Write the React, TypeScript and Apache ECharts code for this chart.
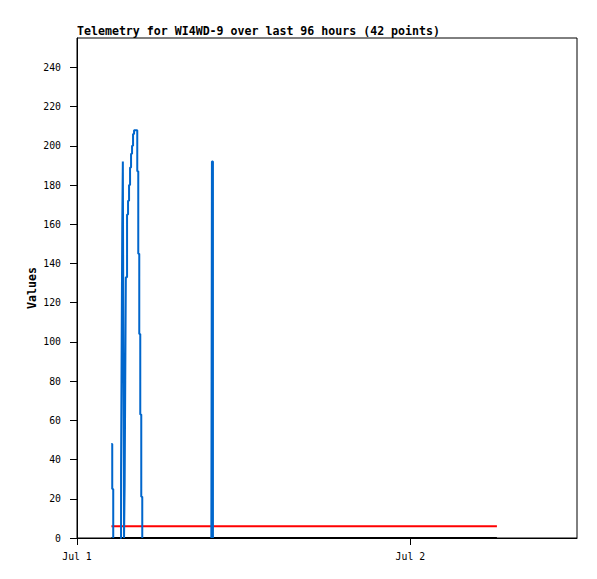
import React, { useEffect, useRef } from 'react';
import * as echarts from 'echarts';

const titleText = 'Telemetry for WI4WD-9 over last 96 hours (42 points)';
const yAxisName = 'Values';

// x axis is measured in hours since Jul 1 00:00
const xMin = 0;
const xMax = 36;
const xTickHours = [0, 24];
const xTickLabels = ['Jul 1', 'Jul 2'];

const yMin = 0;
const yMax = 255;
const yTicks = [0, 20, 40, 60, 80, 100, 120, 140, 160, 180, 200, 220, 240];

// blue telemetry trace (null = gap in the trace)
const blueHours = [
  2.465, 2.537, 2.609, 2.609,
  3.114, 3.171, 3.214, 3.258, 3.301, 3.344, 3.387, 3.431, 3.474, 3.517,
  3.604, 3.676, 3.748, 3.82, 3.892, 3.964, 4.036, 4.108, 4.288, 4.339,
  4.411, 4.483, 4.555, 4.627, 4.699, 4.699,
  9.672, 9.715, 9.787,
];
const blueValues: (number | null)[] = [
  48, 25, 0, null,
  0, 32, 96, 160, 192, 88, 0, 27, 80, 133,
  165, 172, 180, 189, 196, 200, 206, 208, 208, 187,
  145, 104, 63, 21, 0, null,
  0, 192, 0,
];

// red reference level
const redHours = [2.48, 30.234];
const redValues = [6, 6];

// black baseline series
const blackHours = [2.48, 30.234];
const blackValues = [0, 0];

const FONT = 'DejaVu Sans Mono';

export default function App() {
  const ref = useRef<HTMLDivElement>(null);

  useEffect(() => {
    if (!ref.current) return;
    const chart = echarts.init(ref.current, undefined, { renderer: 'svg' });
    const zip = (xs: number[], ys: (number | null)[]) => xs.map((x, i) => [x, ys[i]]);
    chart.setOption({
      animation: false,
      backgroundColor: '#ffffff',
      title: {
        text: titleText,
        left: 77,
        top: 25,
        padding: 0,
        textStyle: { fontFamily: FONT, fontSize: 11.6, fontWeight: 'bold', color: '#000' },
      },
      grid: {
        left: 77,
        top: 38,
        width: 500,
        height: 500,
        show: true,
        borderColor: '#000',
        borderWidth: 1,
        backgroundColor: '#ffffff',
      },
      xAxis: {
        type: 'value',
        min: xMin,
        max: xMax,
        axisLine: { show: true, lineStyle: { color: '#000', width: 1 } },
        axisTick: { show: true, length: 7, inside: false, customValues: xTickHours, lineStyle: { color: '#000' } },
        axisLabel: {
          customValues: xTickHours,
          formatter: (v: number) => {
            const i = xTickHours.indexOf(v);
            return i >= 0 ? xTickLabels[i] : '';
          },
          margin: 13,
          fontFamily: FONT,
          fontSize: 9.8,
          color: '#000',
        },
        splitLine: { show: false },
      },
      yAxis: {
        type: 'value',
        min: yMin,
        max: yMax,
        name: yAxisName,
        nameLocation: 'middle',
        nameGap: 39,
        nameMoveOverlap: false,
        nameTextStyle: { fontFamily: FONT, fontSize: 11.6, fontWeight: 'bold', color: '#000' },
        axisLine: { show: true, lineStyle: { color: '#000', width: 1 } },
        axisTick: { show: true, length: 7, inside: false, customValues: yTicks, lineStyle: { color: '#000' } },
        axisLabel: {
          customValues: yTicks,
          margin: 16,
          fontFamily: FONT,
          fontSize: 9.8,
          color: '#000',
        },
        splitLine: { show: false },
      },
      series: [
        {
          type: 'line',
          data: zip(blackHours, blackValues),
          showSymbol: false,
          lineStyle: { color: '#000000', width: 2 },
          silent: true,
        },
        {
          type: 'line',
          data: zip(redHours, redValues),
          showSymbol: false,
          lineStyle: { color: '#ff0000', width: 2 },
          silent: true,
        },
        {
          type: 'line',
          step: 'end',
          data: zip(blueHours, blueValues),
          showSymbol: false,
          connectNulls: false,
          lineStyle: { color: '#0066cc', width: 2 },
          silent: true,
        },
      ],
    });
    return () => chart.dispose();
  }, []);

  return (
    <div
      ref={ref}
      style={{ position: 'fixed', left: 0, top: 0, width: 597, height: 579, background: '#fff' }}
    />
  );
}
